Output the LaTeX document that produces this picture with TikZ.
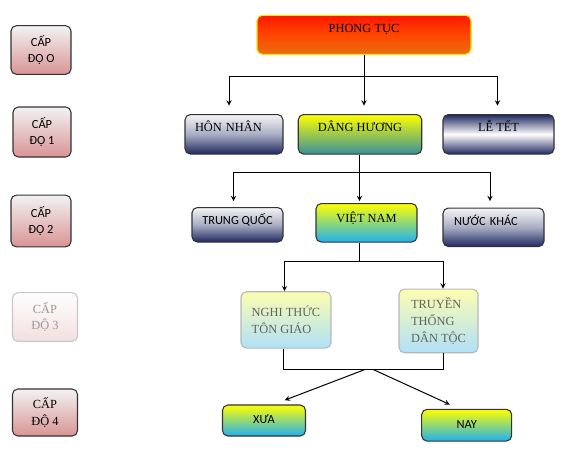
\documentclass[tikz,border=0pt]{standalone}
\usepackage{fontspec}
\setmainfont{Liberation Serif}
\newfontfamily\calib{Carlito}
\usetikzlibrary{arrows}

\definecolor{navy}{HTML}{1E2860}
\definecolor{pinkb}{HTML}{D99494}
\definecolor{tealb}{HTML}{38909A}
\definecolor{skyb}{HTML}{20B0F0}
\definecolor{paley}{HTML}{FDFDB0}
\definecolor{paleb}{HTML}{B0E0F8}
\definecolor{redt}{HTML}{FF1800}
\definecolor{orab}{HTML}{E8700E}

\begin{document}
\begin{tikzpicture}[x=0.75pt, y=-0.75pt,
	font=\fontsize{9.3}{13}\selectfont,
	box/.style={draw=black!80, line width=0.8pt, rounded corners=4pt, inner sep=1pt},
	tup/.style={text height=6.2pt, text depth=#1},
	lvl/.style={box, top color=black!5, bottom color=pinkb, align=center, font=\calib\fontsize{9.3}{12.5}\selectfont},
	navybox/.style={box, top color=black!4, bottom color=navy, middle color=navy!38!white},
	sunbox/.style={box, top color=yellow, bottom color=skyb},
	palebox/.style={box, draw=black!28, top color=paley, bottom color=paleb, text=black!62, align=left},
	link/.style={line width=0.75pt},
	]
	\useasboundingbox (0,0) rectangle (567,461);
	% levels
	\node[lvl, minimum width=60*0.75pt, minimum height=48.6*0.75pt] (L0) at (41,50) {CẤP\\ĐỘ O};
	\node[lvl, minimum width=58*0.75pt, minimum height=50*0.75pt] (L1) at (42,132) {CẤP\\ĐỘ 1};
	\node[lvl, minimum width=60*0.75pt, minimum height=51.7*0.75pt] (L2) at (41,221) {CẤP\\ĐỘ 2};
	\node[lvl, draw=black!22, top color=white, bottom color=pinkb!30, text=black!40, font=\fontsize{9.3}{12.5}\selectfont, minimum width=65*0.75pt, minimum height=48.7*0.75pt] (L3) at (45,317) {CẤP\\ĐỘ 3};
	\node[lvl, font=\fontsize{9.3}{12.5}\selectfont, minimum width=65*0.75pt, minimum height=47*0.75pt] (L4) at (45,412.5) {CẤP\\ĐỘ 4};
	% tree
	\node[box, draw=yellow!85!orange, top color=redt, bottom color=orab, middle color=red!45!orange, tup=10.2pt, minimum width=214*0.75pt, minimum height=39*0.75pt] (PT) at (364,34.8) {PHONG TỤC};
	\node[navybox, tup=11pt, align=left, inner xsep=7.5pt, text width=98*0.75pt-15pt, minimum height=39.5*0.75pt] (HN) at (234,134.3) {HÔN NHÂN};
	\node[box, top color=yellow, bottom color=tealb, tup=11pt, minimum width=123.5*0.75pt, minimum height=39.5*0.75pt] (DH) at (360,134.3) {DÂNG HƯƠNG};
	\node[box, top color=navy, bottom color=navy, middle color=white, tup=11pt, minimum width=111*0.75pt, minimum height=39.5*0.75pt] (LT) at (498.5,134.3) {LỄ TẾT};
	\node[navybox, font=\calib\fontsize{9.3}{12.5}\selectfont, tup=7.2pt, minimum width=91*0.75pt, minimum height=34.5*0.75pt] (TQ) at (237.5,224.8) {TRUNG QUỐC};
	\node[sunbox, tup=7pt, minimum width=101*0.75pt, minimum height=38.5*0.75pt] (VN) at (366.5,222.8) {VIỆT NAM};
	\node[navybox, font=\calib\fontsize{9.3}{12.5}\selectfont, tup=9pt, align=left, inner xsep=8.25pt, text width=101*0.75pt-16.5pt, minimum height=38.5*0.75pt] (NK) at (493.5,227.3) {NƯỚC KHÁC};
	\node[palebox, minimum width=90*0.75pt, minimum height=56.3*0.75pt] (NT) at (286,319.9) {NGHI THỨC\\TÔN GIÁO};
	\node[palebox, minimum width=79*0.75pt, minimum height=63.7*0.75pt] (TT) at (438.5,320.9) {TRUYỀN\\THỐNG\\DÂN TỘC};
	\node[sunbox, font=\calib\fontsize{9.3}{12.5}\selectfont, tup=1pt, minimum width=83*0.75pt, minimum height=31*0.75pt] (XA) at (264,420.5) {XƯA};
	\node[sunbox, font=\calib\fontsize{9.3}{12.5}\selectfont, tup=1pt, minimum width=90*0.75pt, minimum height=31.7*0.75pt] (NA) at (466.7,425.2) {NAY};
	% joints
	\coordinate (j1) at (364,76.7);
	\coordinate (j2) at (359.5,172.3);
	\coordinate (j3) at (359.5,261);
	\coordinate (j4) at (365.5,369.3);
	\coordinate (j5) at (372.7,369.3);
	% links
	\draw[link] (PT.south) -- (j1);
	\draw[link, ->, >=stealth] (j1) -| ([shift={(-5,-8.5)}]HN.north);
	\draw[link, ->, >=stealth] (j1) -- ([shift={(0,-8.5)}]j1 |- DH.north);
	\draw[link, ->, >=stealth] (j1) -| ([shift={(-1,-8.5)}]LT.north);
	\draw[link] (j2 |- DH.south) -- (j2);
	\draw[link, ->, >=stealth] (j2) -| ([shift={(-4,-6)}]TQ.north);
	\draw[link, ->, >=stealth] (j2) -- ([shift={(0,-2)}]j2 |- VN.north);
	\draw[link, ->, >=stealth] (j2) -| ([shift={(-3.5,-6.5)}]NK.north);
	\draw[link] (j3 |- VN.south) -- (j3);
	\draw[link, ->, >=stealth] (j3) -| ([shift={(-1.5,0)}]NT.north);
	\draw[link, ->, >=stealth] (j3) -| ([shift={(4.5,0)}]TT.north);
	\draw[link] ([shift={(-3,0)}]NT.south) |- (j4) -- (j5) -| ([shift={(4.5,0)}]TT.south);
	\draw[link, ->, >=stealth] (j4) -- ([shift={(20.7,-4.3)}]XA.north);
	\draw[link, ->, >=stealth] (j5) -- ([shift={(-16.9,-4.3)}]NA.north);
\end{tikzpicture}
\end{document}
